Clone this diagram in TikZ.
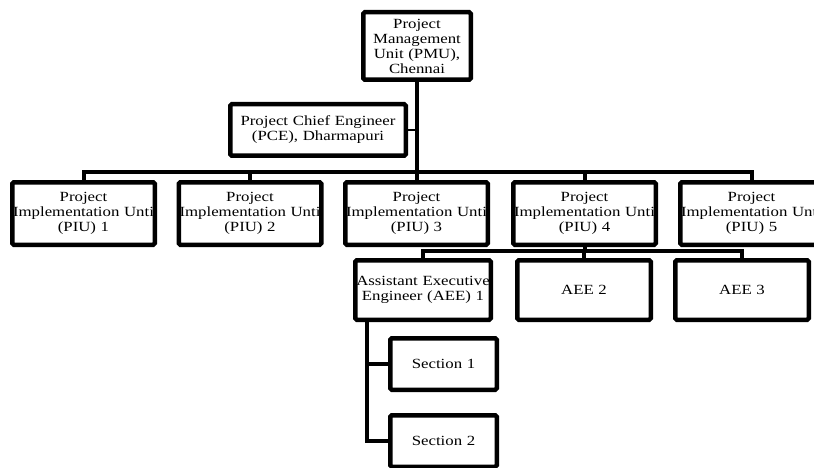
\documentclass[tikz,border=0pt]{standalone}
\usepackage{fontspec}
\setmainfont[FakeStretch=1.2]{Liberation Serif}
\newcommand\bxl[1]{\makebox[0pt]{#1}}
\begin{document}
\begin{tikzpicture}[x=1pt,y=-1pt,
  orgbox/.style={draw=black, line width=4.5pt, rounded corners=1.5pt, fill=white,
    inner sep=0pt, text width=0pt, align=center,
    font=\fontsize{14}{15}\selectfont},
  conn/.style={draw=black, line width=4pt},
  thinconn/.style={draw=black, line width=2pt}]
\useasboundingbox (0,0) rectangle (814,468);
\clip (0,0) rectangle (814,468);
\fill[white] (0,0) rectangle (814,468);

\coordinate (bus) at (0,172);
\coordinate (aeebus) at (0,251);

\node[orgbox, minimum width=107.5pt, minimum height=67.5pt] (pmu) at (417,46)
  {\bxl{Project}\\\bxl{Management}\\\bxl{Unit (PMU),}\\\bxl{Chennai}};
\node[orgbox, minimum width=175.5pt, minimum height=51.5pt] (pce) at (318,130)
  {\bxl{Project Chief Engineer}\\\bxl{(PCE), Dharmapuri}};

\foreach \i/\x in {1/83.5,2/250,3/416.5,4/584.5,5/751.5}{
  \node[orgbox, minimum width=142.5pt, minimum height=62.5pt] (piu\i) at (\x,213.5)
    {\bxl{Project}\\\bxl{Implementation Unti}\\\bxl{(PIU) \i}};
}

\node[orgbox, minimum width=135.5pt, minimum height=59.5pt] (aee1) at (423,290)
  {\bxl{Assistant Executive}\\\bxl{Engineer (AEE) 1}};
\node[orgbox, minimum width=133.5pt, minimum height=59.5pt] (aee2) at (584,290)
  {\bxl{AEE 2}};
\node[orgbox, minimum width=133.5pt, minimum height=59.5pt] (aee3) at (742,290)
  {\bxl{AEE 3}};

\node[orgbox, minimum width=106.5pt, minimum height=51.5pt] (sec1) at (443.5,364)
  {\bxl{Section 1}};
\node[orgbox, minimum width=106.5pt, minimum height=51.5pt] (sec2) at (443.5,441)
  {\bxl{Section 2}};

\coordinate (aeeleft) at ([xshift=14pt]aee1.south west);

% connectors
\draw[conn] (pmu.south) -- (pmu.south |- bus);
\draw[thinconn] (pce.east) -- (pce.east -| pmu.south);
\draw[conn] (piu1.north) -- (piu1.north |- bus) -- (piu5.north |- bus) -- (piu5.north);
\foreach \i in {2,3,4}{
  \draw[conn] (piu\i.north) -- (piu\i.north |- bus);
}
\draw[conn] (piu4.south) -- (piu4.south |- aeebus);
\draw[conn] (aee1.north) -- (aee1.north |- aeebus) -- (aee3.north |- aeebus) -- (aee3.north);
\draw[conn] (aee2.north) -- (aee2.north |- aeebus);
\draw[conn] (aeeleft) |- (sec2.west);
\draw[conn] (aeeleft |- sec1.west) -- (sec1.west);
\end{tikzpicture}
\end{document}
